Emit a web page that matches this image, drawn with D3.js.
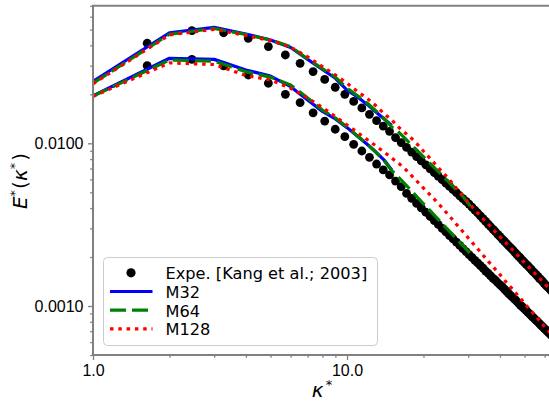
<!DOCTYPE html>
<html><head><meta charset="utf-8">
<script src="https://cdn.jsdelivr.net/npm/d3@7"></script>
<style>body{margin:0;background:#fff}svg{display:block}</style>
</head><body>
<svg id="c" width="549" height="403"></svg>
<script>
// ---- data ----
const kappaExp = [1.634,2.451,3.268,4.085,4.902,5.719,6.536,7.353,8.17,8.987,9.804,10.621,11.438,12.255,13.072,13.889,14.706,15.523,16.34,17.157,17.974,18.791,19.608,20.425,21.242,22.059,22.876,23.693,24.51,25.327,26.144,26.961,27.778,28.595,29.412,30.229,31.046,31.863,32.68,33.497,34.314,35.131,35.948,36.765,37.582,38.399,39.216,40.033,40.85,41.667,42.484,43.301,44.118,44.935,45.752,46.569,47.386,48.203,49.02,49.837,50.654,51.471,52.288,53.105,53.922,54.739,55.556,56.373,57.19,58.007,58.824,59.641,60.458,61.275,62.092,62.909,63.726];
const expUpper = [0.0412,0.0492,0.0478,0.0442,0.0393,0.0349,0.0310,0.0276,0.0247,0.0221,0.0200,0.0181,0.0165,0.01507,0.01377,0.01277,0.01185,0.01085,0.01011,0.00944,0.00883,0.00829,0.00779,0.00737,0.00697,0.00661,0.00627,0.00597,0.00569,0.00543,0.00519,0.00497,0.00476,0.00457,0.00439,0.00423,0.00405,0.00389,0.00373,0.00358,0.00344,0.00331,0.00319,0.00307,0.00296,0.00286,0.00276,0.00267,0.00258,0.00250,0.00242,0.00234,0.00228,0.00221,0.00214,0.00208,0.00202,0.00197,0.00191,0.00186,0.00181,0.00177,0.00172,0.00168,0.00163,0.00160,0.00156,0.00152,0.00148,0.00145,0.00142,0.00138,0.00135,0.00132,0.00130,0.00127,0.00124];
const expLower = [0.0300,0.0328,0.0299,0.0263,0.0234,0.0200,0.0178,0.0154,0.0137,0.0122,0.01098,0.00986,0.00897,0.0082,0.00746,0.00686,0.00639,0.00586,0.00541,0.00492,0.00459,0.00428,0.00401,0.00377,0.00355,0.00335,0.00317,0.00300,0.00285,0.00271,0.00259,0.00247,0.00236,0.00225,0.00216,0.00207,0.00199,0.00191,0.00184,0.00177,0.00171,0.00164,0.00159,0.00153,0.00148,0.00144,0.00139,0.00135,0.00131,0.00127,0.00123,0.00119,0.00116,0.00113,0.00110,0.00107,0.00104,0.00101,0.000988,0.000963,0.000939,0.000917,0.000895,0.000874,0.000854,0.000834,0.000816,0.000798,0.000780,0.000763,0.000747,0.000732,0.000717,0.000702,0.000688,0.000674,0.000661];

const kappaSim = [1,2,3,4,5,6,7,8,9,10,11,12,13,14,15,16,17,18,19,20,21,22,23,24,25,26,27,28,29,30,31,32,33,34,35,36,37,38,39,40,41,42,43,44,45,46,47,48,49,50,51,52,53,54,55,56,57,58,59,60,61,62,63];
const m32Upper = [0.0240,0.0478,0.0516,0.0470,0.0431,0.0388,0.0328,0.0284,0.0251,0.0212,0.01926,0.01734,0.01556,0.0141,0.01286];
const m32Lower = [0.0196,0.0333,0.0328,0.0282,0.0259,0.0223,0.01846,0.01571,0.01411,0.01249,0.01106,0.00987,0.00884,0.00789,0.00685];
const m64Upper = [0.0234,0.0468,0.0508,0.0466,0.0432,0.0392,0.0330,0.0288,0.0255,0.0218,0.0196,0.0177,0.0158,0.0142,0.01259,0.01167,0.01064,0.00973,0.00894,0.00825,0.00766,0.00712,0.00664,0.00622,0.00583,0.00548,0.00516,0.00488,0.00458,0.00428,0.00401];
const m64Lower = [0.0195,0.0325,0.0320,0.0275,0.0255,0.0228,0.0190,0.0160,0.0143,0.0126,0.0111,0.0099,0.0088,0.0078,0.0068,0.00616,0.00558,0.00507,0.00463,0.00425,0.00393,0.00363,0.00337,0.00314,0.00294,0.00276,0.00259,0.00243,0.00230,0.00217,0.00206];
const m128Upper = [0.0232,0.0464,0.0502,0.0460,0.0428,0.0390,0.0340,0.0296,0.0263,0.0234,0.0208,0.0189,0.0170,0.0152,0.0139,0.01252,0.01154,0.01067,0.00979,0.00894,0.00823,0.00759,0.00703,0.00654,0.00611,0.00568,0.00528,0.00494,0.00462,0.00433,0.00409,0.00386,0.00367,0.00349,0.00333,0.00318,0.00304,0.00290,0.00279,0.00267,0.00257,0.00247,0.00237,0.00229,0.00220,0.00212,0.00205,0.00198,0.00191,0.00185,0.00179,0.001734,0.00168,0.001632,0.001581,0.001538,0.001493,0.00145,0.00141,0.00137,0.001334,0.0013,0.001266];
const m128Lower = [0.0194,0.0312,0.0305,0.0261,0.0245,0.0218,0.0190,0.0166,0.01461,0.01296,0.01165,0.01055,0.00963,0.00884,0.00812,0.00751,0.00691,0.00630,0.00577,0.00530,0.00491,0.00455,0.00423,0.00392,0.00365,0.00340,0.00317,0.00297,0.00279,0.00262,0.00247,0.00233,0.00221,0.00209,0.00198,0.00188,0.00179,0.00171,0.00163,0.00156,0.00149,0.00142,0.00137,0.00131,0.00126,0.00121,0.00116,0.00112,0.00108,0.00104,0.00100,0.000967,0.000934,0.000904,0.000873,0.000846,0.000819,0.000794,0.000769,0.000746,0.000724,0.000703,0.000684];

const xMajor = [1, 10];
const xMinor = [2,3,4,5,6,7,8,9,20,30,40,50,60];
const yMajor = [0.001, 0.01];
const yMinor = [0.0005,0.0006,0.0007,0.0008,0.0009,0.002,0.003,0.004,0.005,0.006,0.007,0.008,0.009,0.02,0.03,0.04,0.05,0.06,0.07];

const legendItems = [
  {label:"Expe. [Kang et al.; 2003]", type:"marker"},
  {label:"M32", type:"line", color:"#0000ff", dash:null},
  {label:"M64", type:"line", color:"#008000", dash:"16,6"},
  {label:"M128", type:"line", color:"#ff0000", dash:"3.5,4.8"}
];

// ---- drawing ----
const svg = d3.select("#c");
const L = 93, R = 551.8, T = 5.8, B = 355;
const x = d3.scaleLog().domain([1, 64]).range([L, R]);
const y = d3.scaleLog().domain([0.0005, 0.07]).range([B, T]);
const spine = "#808080";
const tickFont = "'Liberation Sans', Arial, sans-serif";

svg.append("defs").append("clipPath").attr("id","clip")
  .append("rect").attr("x",L).attr("y",T).attr("width",R-L).attr("height",B-T);

const plot = svg.append("g").attr("clip-path","url(#clip)");

const pair = (xs, ys) => ys.map((v,i) => [xs[i], v]);

[expUpper, expLower].forEach(s => {
  plot.append("g").selectAll("circle").data(pair(kappaExp, s)).join("circle")
    .attr("cx", d => x(d[0])).attr("cy", d => y(d[1])).attr("r", 4.4).attr("fill", "#000");
});

const line = d3.line().x(d => x(d[0])).y(d => y(d[1]));
const series = [
  {data:[m32Upper, m32Lower], color:"#0000ff", dash:null},
  {data:[m64Upper, m64Lower], color:"#008000", dash:"16,6"},
  {data:[m128Upper, m128Lower], color:"#ff0000", dash:"3.5,4.8"}
];
series.forEach(s => {
  s.data.forEach(v => {
    plot.append("path").attr("d", line(pair(kappaSim, v)))
      .attr("fill","none").attr("stroke", s.color).attr("stroke-width", 3.2)
      .attr("stroke-dasharray", s.dash).attr("stroke-linejoin","round");
  });
});

// axes
function styleAxis(g){
  g.select(".domain").remove();
  g.selectAll(".tick line").attr("stroke", spine).attr("stroke-width", 1.3);
  g.selectAll(".tick text").attr("font-family", tickFont).attr("font-size", 16).attr("fill", "#000");
}
svg.append("g").attr("transform",`translate(0,${B})`)
  .call(d3.axisBottom(x).tickValues(xMajor).tickFormat(d3.format(".1f")).tickSize(5).tickPadding(4.5))
  .call(styleAxis);
svg.append("g").attr("transform",`translate(0,${B})`)
  .call(d3.axisBottom(x).tickValues(xMinor).tickFormat("").tickSize(2.8))
  .call(styleAxis);
svg.append("g").attr("transform",`translate(${L},0)`)
  .call(d3.axisLeft(y).tickValues(yMajor).tickFormat(d3.format(".4f")).tickSize(5).tickPadding(4.5))
  .call(styleAxis);
svg.append("g").attr("transform",`translate(${L},0)`)
  .call(d3.axisLeft(y).tickValues(yMinor).tickFormat("").tickSize(2.8))
  .call(styleAxis);

// spines
svg.append("line").attr("x1",L).attr("x2",L).attr("y1",T).attr("y2",B).attr("stroke",spine).attr("stroke-width",2);
svg.append("line").attr("x1",L-1).attr("x2",R).attr("y1",B).attr("y2",B).attr("stroke",spine).attr("stroke-width",2);
svg.append("line").attr("x1",L-1).attr("x2",R).attr("y1",T).attr("y2",T).attr("stroke",spine).attr("stroke-width",2);

// axis labels
const labFont = "'DejaVu Sans', sans-serif";
const yl = svg.append("text").attr("transform","translate(27,181) rotate(-90)")
  .attr("text-anchor","middle").attr("font-family",labFont).attr("font-size",20).attr("fill","#000");
yl.append("tspan").attr("font-style","italic").text("E");
yl.append("tspan").attr("font-size",13).attr("dy",-8).text("*");
yl.append("tspan").attr("dy",8).attr("dx",1).text("(");
yl.append("tspan").attr("font-style","italic").text("κ");
yl.append("tspan").attr("font-size",13).attr("dy",-8).text("*");
yl.append("tspan").attr("dy",8).attr("dx",2).text(")");

const xl = svg.append("text").attr("x",322).attr("y",397)
  .attr("text-anchor","middle").attr("font-family",labFont).attr("font-size",20).attr("fill","#000");
xl.append("tspan").attr("font-style","italic").text("κ");
xl.append("tspan").attr("font-size",13).attr("dy",-8).attr("dx",2).text("*");

// legend
const lg = svg.append("g");
lg.append("rect").attr("x",103.5).attr("y",257.5).attr("width",274).attr("height",88).attr("rx",4)
  .attr("fill","#fff").attr("fill-opacity",0.8).attr("stroke","#cccccc").attr("stroke-width",1);
legendItems.forEach((it, i) => {
  const cy = 272.8 + i * 18.7;
  if (it.type === "marker") {
    lg.append("circle").attr("cx",131).attr("cy",cy).attr("r",4.6).attr("fill","#000");
  } else {
    lg.append("line").attr("x1",110).attr("x2",152.5).attr("y1",cy).attr("y2",cy)
      .attr("stroke",it.color).attr("stroke-width",3.2).attr("stroke-dasharray",it.dash);
  }
  lg.append("text").attr("x",165.5).attr("y",cy + 6.3).attr("font-family","'DejaVu Sans', sans-serif")
    .attr("font-size",16.2).attr("fill","#000").text(it.label);
});
</script>
</body></html>
